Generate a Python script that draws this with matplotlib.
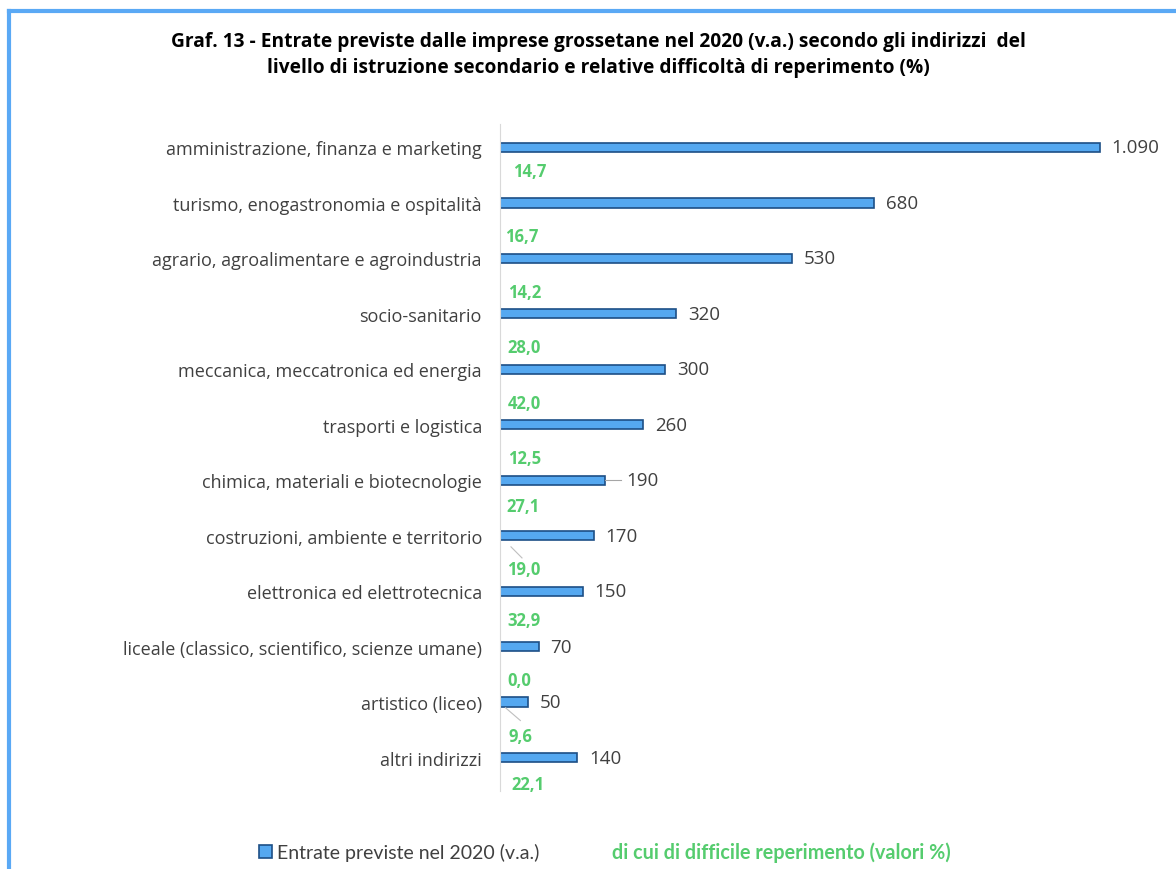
import numpy as np
import matplotlib.pyplot as plt
from matplotlib.lines import Line2D

# Data
categories = [
    'amministrazione, finanza e marketing',
    'turismo, enogastronomia e ospitalità',
    'agrario, agroalimentare e agroindustria',
    'socio-sanitario',
    'meccanica, meccatronica ed energia',
    'trasporti e logistica',
    'chimica, materiali e biotecnologie',
    'costruzioni, ambiente e territorio',
    'elettronica ed elettrotecnica',
    'liceale (classico, scientifico, scienze umane)',
    'artistico (liceo)',
    'altri indirizzi',
]
entrate = [1090, 680, 530, 320, 300, 260, 190, 170, 150, 70, 50, 140]
entrate_labels = ['1.090', '680', '530', '320', '300', '260', '190', '170', '150', '70', '50', '140']
difficile = ['14,7', '16,7', '14,2', '28,0', '42,0', '12,5', '27,1', '19,0', '32,9', '0,0', '9,6', '22,1']

# label layout (Excel-style placement of the % labels)
pct_dx = [24, 9, 14, 14, 14, 14, 11, 12, 14, 13, 16, 20]
pct_dy = [0.43, 0.6, 0.6, 0.6, 0.6, 0.6, 0.47, 0.6, 0.52, 0.6, 0.61, 0.47]

GREEN = '#55cc6e'
BLUE = '#55a8f0'
GRAY = '#404040'

fig = plt.figure(figsize=(11.76, 8.7), dpi=100)

# blue frame (left and top edges)
fig.add_artist(Line2D([8.5 / 1176, 8.5 / 1176], [0, 1 - 12 / 870], color='#5aa9f5', lw=3))
fig.add_artist(Line2D([8.5 / 1176, 1], [1 - 12 / 870, 1 - 12 / 870], color='#5aa9f5', lw=3))

ax = fig.add_axes([500 / 1176, 78 / 870, 660 / 1176, 667 / 870])
y = np.arange(len(categories))
ax.barh(y, entrate, height=0.17, color=BLUE, edgecolor='#1d4f86', linewidth=1.2)
ax.set_xlim(0, 1200)
ax.set_ylim(len(categories) - 1 + 0.6, -0.42)

ax.set_yticks(y)
ax.set_yticklabels(categories, fontsize=13, color=GRAY, family='Open Sans')
ax.tick_params(axis='y', length=0, pad=13)
ax.set_xticks([])
for s in ['top', 'right', 'bottom']:
    ax.spines[s].set_visible(False)
ax.spines['left'].set_color('#d9d9d9')

for i, (v, lab) in enumerate(zip(entrate, entrate_labels)):
    off = 12 if i != 6 else 22
    ax.annotate(lab, (v, i), xytext=(off, 0), textcoords='offset pixels',
                va='center', ha='left', fontsize=13.5, color=GRAY, family='Open Sans')
    ax.text(pct_dx[i], i + pct_dy[i], difficile[i], ha='left', va='center',
            fontsize=12, fontweight='bold', color=GREEN, family='Open Sans')

# leader lines
ax.plot([190, 190 + 30], [6, 6], color='#a6a6a6', lw=0.8)
ax.plot([20, 40], [7 + 0.2, 7 + 0.4], color='#bfbfbf', lw=0.8)
ax.plot([10, 37], [10 + 0.1, 10 + 0.33], color='#bfbfbf', lw=0.8)

fig.text(598 / 1176, 1 - 42 / 870,
         'Graf. 13 - Entrate previste dalle imprese grossetane nel 2020 (v.a.) secondo gli indirizzi  del',
         ha='center', va='center', fontsize=13.8, fontweight='bold', family='Open Sans')
fig.text(598 / 1176, 1 - 68 / 870,
         'livello di istruzione secondario e relative difficoltà di reperimento (%)',
         ha='center', va='center', fontsize=13.8, fontweight='bold', family='Open Sans')

# legend
fig.patches.append(plt.Rectangle((259 / 1176, 1 - 859 / 870), 13 / 1176, 13 / 870,
                                 transform=fig.transFigure, facecolor=BLUE,
                                 edgecolor='#1d4f86', lw=1.2))
fig.text(277 / 1176, 1 - 853 / 870, 'Entrate previste nel 2020 (v.a.)', ha='left', va='center',
         fontsize=14, color=GRAY, family='Lato')
fig.text(612 / 1176, 1 - 853 / 870, 'di cui di difficile reperimento (valori %)', ha='left',
         va='center', fontsize=14.2, color=GREEN, fontweight='bold', family='Lato')

fig.savefig('out.png', dpi=100, facecolor='white')
